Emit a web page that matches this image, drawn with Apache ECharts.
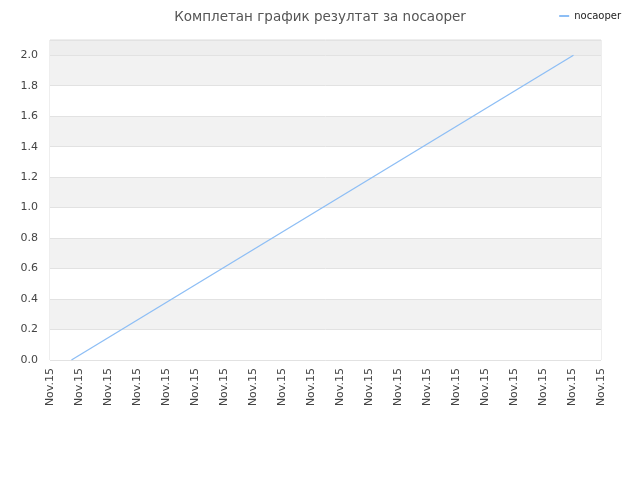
<!DOCTYPE html>
<html><head><meta charset="utf-8">
<script src="https://cdn.jsdelivr.net/npm/echarts@6/dist/echarts.min.js"></script>
<style>html,body{margin:0;padding:0;background:#fff}#c{width:640px;height:480px}</style>
</head><body><div id="c"></div>
<script>
var titleText = 'Комплетан график резултат за nocaoper';
var seriesName = 'nocaoper';
var xLabels = ['Nov.15','Nov.15','Nov.15','Nov.15','Nov.15','Nov.15','Nov.15','Nov.15','Nov.15','Nov.15',
               'Nov.15','Nov.15','Nov.15','Nov.15','Nov.15','Nov.15','Nov.15','Nov.15','Nov.15','Nov.15'];
var xPos = [0.74, 18.05];
var yVals = [0.0, 2.0];

var chart = echarts.init(document.getElementById('c'));
var font = 'DejaVu Sans';
chart.setOption({
  animation: false,
  title: {text: titleText, left: 'center', top: 5,
    textStyle: {fontFamily: font, fontSize: 13.5, fontWeight: 'normal', color: '#555'}},
  legend: {right: 14, top: 6, itemWidth: 10, itemHeight: 2, itemGap: 5,
    textStyle: {fontFamily: font, fontSize: 10, color: '#222'},
    data: [{name: seriesName, icon: 'rect'}]},
  grid: {left: 50, right: 39, top: 40, bottom: 120, containLabel: false,
    show: true, borderColor: '#dddddd', borderWidth: 1},
  xAxis: {type: 'value', min: 0, max: xLabels.length - 1, interval: 1,
    axisLine: {show: false}, axisTick: {show: false}, splitLine: {show: false},
    axisLabel: {rotate: 90, margin: 8, fontFamily: font, fontSize: 11, color: '#444',
      formatter: function (v) { return xLabels[Math.round(v)] || ''; }}},
  yAxis: {type: 'value', min: 0, max: 2.1, interval: 0.2,
    axisLine: {show: false}, axisTick: {show: false},
    axisLabel: {fontFamily: font, fontSize: 11, color: '#444', margin: 12, showMaxLabel: false,
      formatter: function (v) { return v > 2.05 ? '' : v.toFixed(1); }},
    splitLine: {lineStyle: {color: '#e2e2e2', width: 1}},
    splitArea: {show: true, areaStyle: {color: ['#ffffff','#f2f2f2','#ffffff','#f2f2f2','#ffffff','#f2f2f2','#ffffff','#f2f2f2','#ffffff','#f2f2f2','#eeeeee']}}},
  series: [{name: seriesName, type: 'line', showSymbol: false, symbol: 'none',
    lineStyle: {color: '#8dbef5', width: 1.3}, itemStyle: {color: '#8dbef5'},
    data: xPos.map(function (x, i) { return [x, yVals[i]]; })}]
});
</script></body></html>
